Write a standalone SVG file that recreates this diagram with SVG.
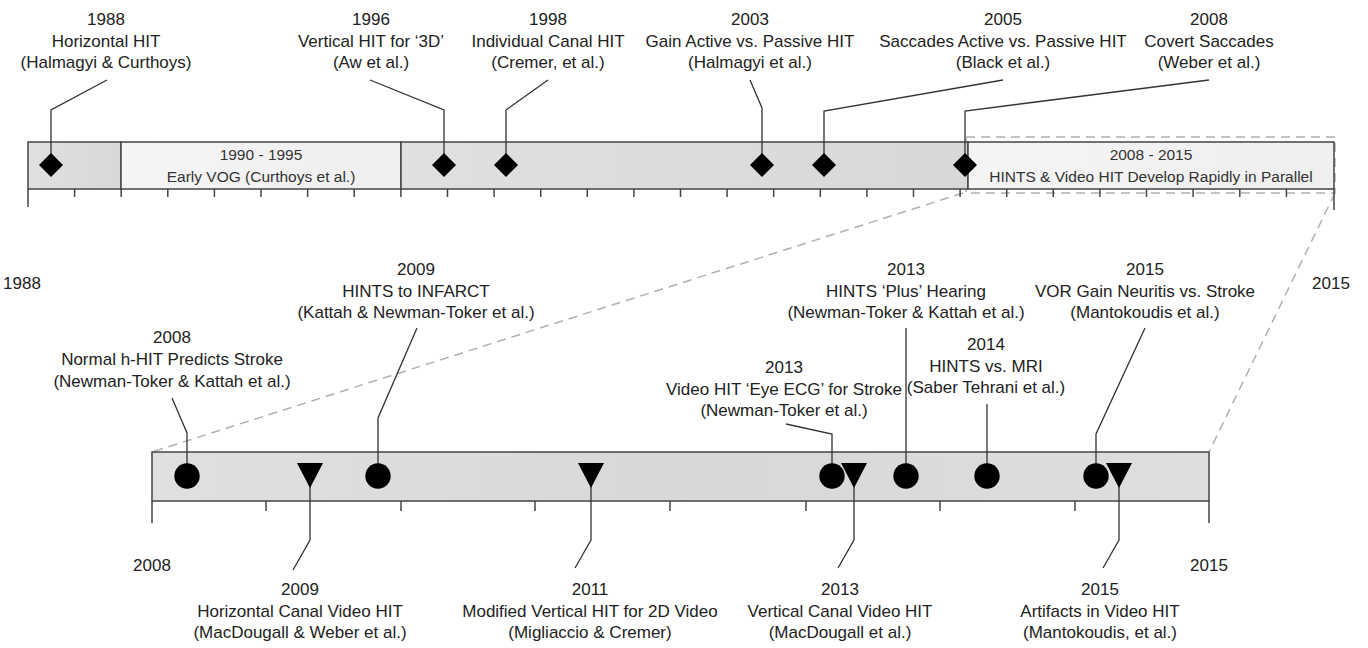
<svg xmlns="http://www.w3.org/2000/svg" width="1368" height="648" viewBox="0 0 1368 648">
<style>
text{font-family:"Liberation Sans",Arial,sans-serif;fill:#222;text-anchor:middle}
.lbl{font-size:17px}
.bar{font-size:15.5px;fill:#333}
.ax{font-size:17px}
.lead{stroke:#333;stroke-width:1.3;fill:none}
.tick{stroke:#444;stroke-width:1.5}
.seg{stroke:#444;stroke-width:1.5}
.dash{stroke:#b0b0b0;stroke-width:1.5;stroke-dasharray:9 6;fill:none}
.mk{fill:#000}
</style>
<defs>
<linearGradient id="gGray" x1="0" y1="0" x2="1" y2="0">
<stop offset="0" stop-color="#e0e0e0"/><stop offset="1" stop-color="#d8d8d8"/>
</linearGradient>
<linearGradient id="gLight" x1="0" y1="0" x2="1" y2="0">
<stop offset="0" stop-color="#f5f5f5"/><stop offset="1" stop-color="#efefef"/>
</linearGradient>
<linearGradient id="gLow" x1="0" y1="0" x2="1" y2="0">
<stop offset="0" stop-color="#e0e0e0"/><stop offset="0.5" stop-color="#d8d8d8"/><stop offset="1" stop-color="#dedede"/>
</linearGradient>
<path id="dia" d="M0,-12 L12,0 L0,12 L-12,0 Z"/>
<path id="tri" d="M-13,-13 L13,-13 L0,12 Z"/>
</defs>

<!-- zoom guide -->
<g id="zoom-guide">
<rect class="dash" x="966" y="137" width="369" height="56"/>
<line class="dash" x1="963" y1="193" x2="152" y2="452"/>
<line class="dash" x1="1335" y1="193" x2="1209" y2="452"/>
</g>

<!-- top timeline -->
<g id="top-bar">
<rect class="seg" x="28" y="142" width="93" height="47" fill="url(#gGray)"/>
<rect class="seg" x="121" y="142" width="280" height="47" fill="url(#gLight)"/>
<rect class="seg" x="401" y="142" width="567" height="47" fill="url(#gGray)"/>
<rect class="seg" x="968" y="142" width="366" height="47" fill="url(#gLight)"/>
<text class="bar" x="261" y="160">1990 - 1995</text>
<text class="bar" x="261" y="182">Early VOG (Curthoys et al.)</text>
<text class="bar" x="1151" y="160">2008 - 2015</text>
<text class="bar" x="1151" y="182">HINTS &amp; Video HIT Develop Rapidly in Parallel</text>
</g>
<g id="top-ticks">
<line class="tick" x1="28" y1="189" x2="28" y2="207"/>
<line class="tick" x1="74.6" y1="189" x2="74.6" y2="197"/>
<line class="tick" x1="121.2" y1="189" x2="121.2" y2="197"/>
<line class="tick" x1="167.8" y1="189" x2="167.8" y2="197"/>
<line class="tick" x1="214.4" y1="189" x2="214.4" y2="197"/>
<line class="tick" x1="261" y1="189" x2="261" y2="197"/>
<line class="tick" x1="307.6" y1="189" x2="307.6" y2="197"/>
<line class="tick" x1="354.2" y1="189" x2="354.2" y2="197"/>
<line class="tick" x1="400.9" y1="189" x2="400.9" y2="197"/>
<line class="tick" x1="447.5" y1="189" x2="447.5" y2="197"/>
<line class="tick" x1="494.1" y1="189" x2="494.1" y2="197"/>
<line class="tick" x1="540.7" y1="189" x2="540.7" y2="197"/>
<line class="tick" x1="587.3" y1="189" x2="587.3" y2="197"/>
<line class="tick" x1="633.9" y1="189" x2="633.9" y2="197"/>
<line class="tick" x1="680.5" y1="189" x2="680.5" y2="197"/>
<line class="tick" x1="727.1" y1="189" x2="727.1" y2="197"/>
<line class="tick" x1="773.7" y1="189" x2="773.7" y2="197"/>
<line class="tick" x1="820.3" y1="189" x2="820.3" y2="197"/>
<line class="tick" x1="866.9" y1="189" x2="866.9" y2="197"/>
<line class="tick" x1="913.5" y1="189" x2="913.5" y2="197"/>
<line class="tick" x1="960.1" y1="189" x2="960.1" y2="197"/>
<line class="tick" x1="1006.7" y1="189" x2="1006.7" y2="197"/>
<line class="tick" x1="1053.3" y1="189" x2="1053.3" y2="197"/>
<line class="tick" x1="1099.9" y1="189" x2="1099.9" y2="197"/>
<line class="tick" x1="1146.5" y1="189" x2="1146.5" y2="197"/>
<line class="tick" x1="1193.1" y1="189" x2="1193.1" y2="197"/>
<line class="tick" x1="1239.8" y1="189" x2="1239.8" y2="197"/>
<line class="tick" x1="1286.4" y1="189" x2="1286.4" y2="197"/>
<line class="tick" x1="1334" y1="189" x2="1334" y2="210"/>
<text class="ax" x="22" y="289">1988</text>
<text class="ax" x="1331" y="289">2015</text>
</g>

<!-- bottom timeline -->
<g id="bottom-bar">
<rect class="seg" x="152" y="452" width="1057" height="49" fill="url(#gLow)"/>
</g>
<g id="bottom-ticks">
<line class="tick" x1="152" y1="501" x2="152" y2="523"/>
<line class="tick" x1="266" y1="501" x2="266" y2="511"/>
<line class="tick" x1="401" y1="501" x2="401" y2="511"/>
<line class="tick" x1="535" y1="501" x2="535" y2="511"/>
<line class="tick" x1="670" y1="501" x2="670" y2="511"/>
<line class="tick" x1="806" y1="501" x2="806" y2="511"/>
<line class="tick" x1="940" y1="501" x2="940" y2="511"/>
<line class="tick" x1="1075" y1="501" x2="1075" y2="511"/>
<line class="tick" x1="1209" y1="501" x2="1209" y2="523"/>
<text class="ax" x="152" y="571">2008</text>
<text class="ax" x="1209" y="571">2015</text>
</g>

<!-- connectors -->
<g id="connectors">
<polyline class="lead" points="107,80 51,110 51,165"/>
<polyline class="lead" points="370,80 444,110 444,165"/>
<polyline class="lead" points="548,80 506,110 506,165"/>
<polyline class="lead" points="750,80 762,108 762,165"/>
<polyline class="lead" points="1003,80 824,111 824,165"/>
<polyline class="lead" points="1209,80 965,111 965,165"/>
<polyline class="lead" points="172,398 187,433 187,476"/>
<polyline class="lead" points="417,328 378,418 378,476"/>
<polyline class="lead" points="786,424 832,434 832,476"/>
<polyline class="lead" points="906,328 906,476"/>
<polyline class="lead" points="987,404 987,476"/>
<polyline class="lead" points="1145,328 1096,434 1096,476"/>
<polyline class="lead" points="310,476 310,540 293,570"/>
<polyline class="lead" points="591,476 591,540 575,568"/>
<polyline class="lead" points="854,476 854,540 838,568"/>
<polyline class="lead" points="1119,476 1119,540 1103,568"/>
</g>

<!-- top events -->
<g id="e1988"><use href="#dia" x="51" y="165" class="mk"/>
<text class="lbl" x="106" y="25">1988</text><text class="lbl" x="106" y="47">Horizontal HIT</text><text class="lbl" x="106" y="68">(Halmagyi &amp; Curthoys)</text></g>
<g id="e1996"><use href="#dia" x="444" y="165" class="mk"/>
<text class="lbl" x="371" y="25">1996</text><text class="lbl" x="371" y="47">Vertical HIT for ‘3D’</text><text class="lbl" x="371" y="68">(Aw et al.)</text></g>
<g id="e1998"><use href="#dia" x="506" y="165" class="mk"/>
<text class="lbl" x="548" y="25">1998</text><text class="lbl" x="548" y="47">Individual Canal HIT</text><text class="lbl" x="548" y="68">(Cremer, et al.)</text></g>
<g id="e2003"><use href="#dia" x="762" y="165" class="mk"/>
<text class="lbl" x="750" y="25">2003</text><text class="lbl" x="750" y="47">Gain Active vs. Passive HIT</text><text class="lbl" x="750" y="68">(Halmagyi et al.)</text></g>
<g id="e2005"><use href="#dia" x="824" y="165" class="mk"/>
<text class="lbl" x="1003" y="25">2005</text><text class="lbl" x="1003" y="47">Saccades Active vs. Passive HIT</text><text class="lbl" x="1003" y="68">(Black et al.)</text></g>
<g id="e2008"><use href="#dia" x="965" y="165" class="mk"/>
<text class="lbl" x="1209" y="25">2008</text><text class="lbl" x="1209" y="47">Covert Saccades</text><text class="lbl" x="1209" y="68">(Weber et al.)</text></g>

<!-- bottom events: circles (above) -->
<g id="b2008"><circle class="mk" cx="187" cy="476" r="12.7"/>
<text class="lbl" x="172" y="343">2008</text><text class="lbl" x="172" y="365">Normal h-HIT Predicts Stroke</text><text class="lbl" x="172" y="387">(Newman-Toker &amp; Kattah et al.)</text></g>
<g id="b2009a"><circle class="mk" cx="378" cy="476" r="12.7"/>
<text class="lbl" x="416" y="275">2009</text><text class="lbl" x="416" y="297">HINTS to INFARCT</text><text class="lbl" x="416" y="318">(Kattah &amp; Newman-Toker et al.)</text></g>
<g id="b2013a"><circle class="mk" cx="832" cy="476" r="12.7"/>
<text class="lbl" x="784" y="373">2013</text><text class="lbl" x="784" y="395">Video HIT ‘Eye ECG’ for Stroke</text><text class="lbl" x="784" y="416">(Newman-Toker et al.)</text></g>
<g id="b2013b"><circle class="mk" cx="906" cy="476" r="12.7"/>
<text class="lbl" x="906" y="275">2013</text><text class="lbl" x="906" y="297">HINTS ‘Plus’ Hearing</text><text class="lbl" x="906" y="318">(Newman-Toker &amp; Kattah et al.)</text></g>
<g id="b2014"><circle class="mk" cx="987" cy="476" r="12.7"/>
<text class="lbl" x="986" y="350">2014</text><text class="lbl" x="986" y="372">HINTS vs. MRI</text><text class="lbl" x="986" y="393">(Saber Tehrani et al.)</text></g>
<g id="b2015a"><circle class="mk" cx="1096" cy="476" r="12.7"/>
<text class="lbl" x="1145" y="275">2015</text><text class="lbl" x="1145" y="297">VOR Gain Neuritis vs. Stroke</text><text class="lbl" x="1145" y="318">(Mantokoudis et al.)</text></g>

<!-- bottom events: triangles (below) -->
<g id="b2009b"><use href="#tri" x="310" y="476" class="mk"/>
<text class="lbl" x="300" y="595">2009</text><text class="lbl" x="300" y="617">Horizontal Canal Video HIT</text><text class="lbl" x="300" y="638">(MacDougall &amp; Weber et al.)</text></g>
<g id="b2011"><use href="#tri" x="591" y="476" class="mk"/>
<text class="lbl" x="590" y="595">2011</text><text class="lbl" x="590" y="617">Modified Vertical HIT for 2D Video</text><text class="lbl" x="590" y="638">(Migliaccio &amp; Cremer)</text></g>
<g id="b2013c"><use href="#tri" x="854" y="476" class="mk"/>
<text class="lbl" x="840" y="595">2013</text><text class="lbl" x="840" y="617">Vertical Canal Video HIT</text><text class="lbl" x="840" y="638">(MacDougall et al.)</text></g>
<g id="b2015b"><use href="#tri" x="1119" y="476" class="mk"/>
<text class="lbl" x="1100" y="595">2015</text><text class="lbl" x="1100" y="617">Artifacts in Video HIT</text><text class="lbl" x="1100" y="638">(Mantokoudis, et al.)</text></g>
</svg>
